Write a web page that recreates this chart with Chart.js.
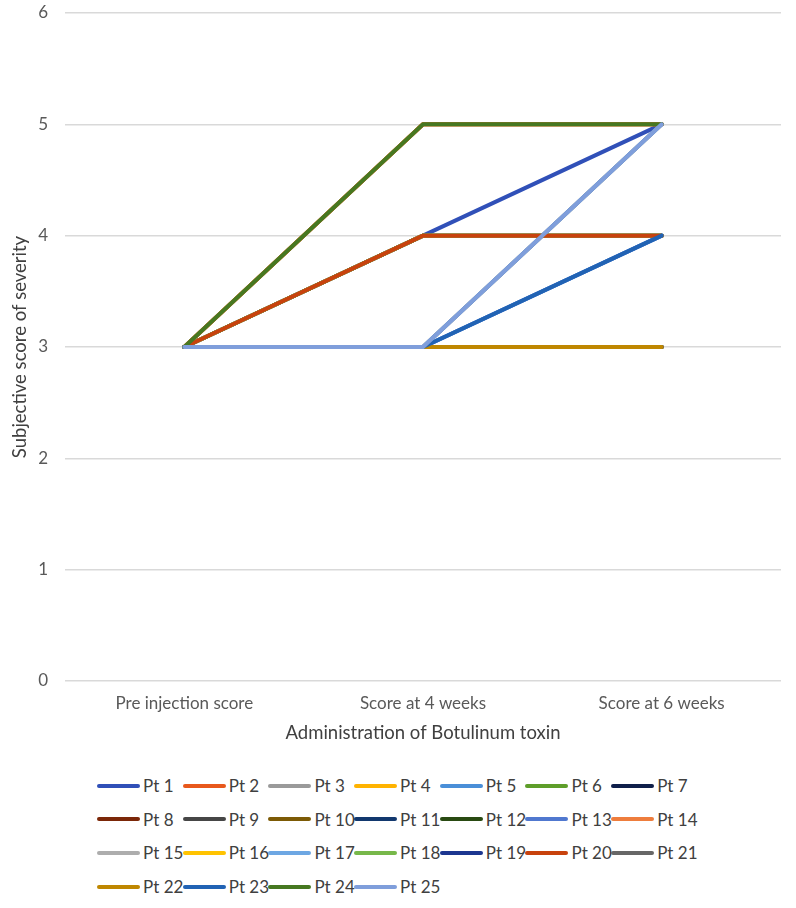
<!DOCTYPE html>
<html>
<head>
<meta charset="utf-8">
<title>Subjective score of severity</title>
<script src="https://cdn.jsdelivr.net/npm/chart.js@4.4.1/dist/chart.umd.min.js"></script>
<style>
  html, body { margin: 0; padding: 0; background: #fff; }
  #wrap { position: relative; width: 796px; height: 908px; }
  #box { position: absolute; left: 0; top: 0; width: 796px; height: 760px; }
  #legend {
    position: absolute; left: 97px; top: 769px;
    display: grid; grid-template-columns: repeat(7, 85.7px); grid-auto-rows: 33.6px;
    font-family: Lato, sans-serif; font-size: 17px; color: #404040;
  }
  .item { display: flex; align-items: center; white-space: nowrap; }
  .swatch { width: 43px; height: 4px; border-radius: 2px; margin-right: 3px; flex: none; }
</style>
</head>
<body>
<div id="wrap">
  <div id="box"><canvas id="myChart"></canvas></div>
  <div id="legend"></div>
</div>
<script>
let categories = ["Pre injection score", "Score at 4 weeks", "Score at 6 weeks"];

let patients = ["Pt 1", "Pt 2", "Pt 3", "Pt 4", "Pt 5", "Pt 6", "Pt 7", "Pt 8", "Pt 9", "Pt 10",
    "Pt 11", "Pt 12", "Pt 13", "Pt 14", "Pt 15", "Pt 16", "Pt 17", "Pt 18", "Pt 19", "Pt 20",
    "Pt 21", "Pt 22", "Pt 23", "Pt 24", "Pt 25"];

// one value per patient, Pt 1 .. Pt 25
let preScores   = [3, 3, 3, 3, 3, 3, 3, 3, 3, 3, 3, 3, 3, 3, 3, 3, 3, 3, 3, 3, 3, 3, 3, 3, 3];
let week4Scores = [4, 4, 3, 5, 3, 4, 3, 5, 3, 4, 3, 4, 3, 5, 4, 3, 3, 4, 3, 4, 3, 3, 3, 5, 3];
let week6Scores = [5, 4, 3, 5, 4, 4, 3, 5, 5, 4, 3, 4, 4, 5, 4, 3, 5, 4, 3, 4, 3, 3, 4, 5, 5];

let yTicks = [0, 1, 2, 3, 4, 5, 6];

let colors = [
    '#3050b8', '#e8581c', '#9a9a9a', '#ffb300', '#4a8fd8', '#5e9e2a', '#0f1f4a',
    '#7b2708', '#464646', '#7c5a05', '#12386e', '#294a12', '#5078cf', '#ee7d3d',
    '#adadad', '#ffc300', '#6da7e3', '#77b84a', '#1c3690', '#c8420d', '#676767',
    '#bf8700', '#2163b4', '#467821', '#7f9edb'
];

let datasets = patients.map((name, i) => ({
    label: name,
    data: [preScores[i], week4Scores[i], week6Scores[i]],
    borderColor: colors[i],
    backgroundColor: colors[i],
    borderWidth: 4,
    pointRadius: 0,
    pointHoverRadius: 0,
    tension: 0,
    borderCapStyle: 'round',
    borderJoinStyle: 'round',
    // later patients are drawn on top, as in the original
    order: patients.length - i
}));

let ctx = document.getElementById('myChart').getContext('2d');

let myChart = new Chart(ctx, {
    type: 'line',
    data: {
        labels: categories,
        datasets: datasets
    },
    options: {
        responsive: true,
        maintainAspectRatio: false,
        animation: false,
        layout: {
            padding: { top: 0, right: 15, bottom: 0, left: 0 }
        },
        plugins: {
            legend: { display: false },
            tooltip: { enabled: false }
        },
        scales: {
            x: {
                offset: true,
                grid: { display: false, drawTicks: false },
                border: { display: false },
                ticks: {
                    color: '#595959',
                    padding: 12,
                    font: { family: 'Lato', size: 17 }
                },
                title: {
                    display: true,
                    text: 'Administration of Botulinum toxin',
                    color: '#404040',
                    padding: { top: 4, bottom: 16 },
                    font: { family: 'Lato', size: 18.5 }
                },
                afterFit: (axis) => { axis.height = 79; }
            },
            y: {
                min: 0,
                max: 6,
                afterBuildTicks: (axis) => { axis.ticks = yTicks.map(v => ({ value: v })); },
                grid: { color: '#d9d9d9', lineWidth: 1.4, drawTicks: false },
                border: { display: false },
                ticks: {
                    color: '#595959',
                    padding: 17,
                    font: { family: 'Lato', size: 17 }
                },
                title: {
                    display: true,
                    text: 'Subjective score of severity',
                    color: '#404040',
                    padding: { top: 9, bottom: 0 },
                    font: { family: 'Lato', size: 18.5 }
                },
                afterFit: (axis) => {
                    axis.width = 65;
                    axis.paddingTop = 13;
                    axis.paddingBottom = 0;
                }
            }
        }
    }
});

// legend in the same 7-column layout as the original
let legendBox = document.getElementById('legend');
myChart.data.datasets.forEach(ds => {
    let item = document.createElement('div');
    item.className = 'item';
    let swatch = document.createElement('span');
    swatch.className = 'swatch';
    swatch.style.background = ds.borderColor;
    let text = document.createElement('span');
    text.textContent = ds.label;
    item.appendChild(swatch);
    item.appendChild(text);
    legendBox.appendChild(item);
});
</script>
</body>
</html>
